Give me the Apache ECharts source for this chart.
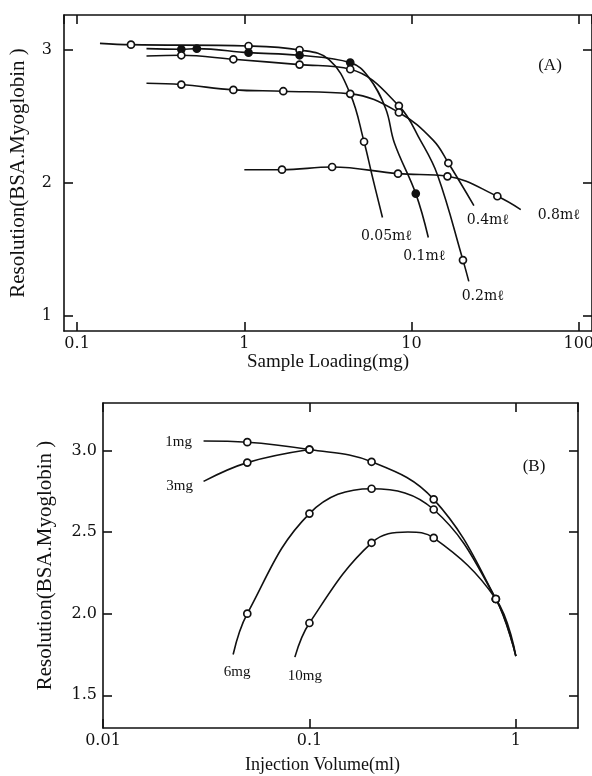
<!DOCTYPE html>
<html>
<head>
<meta charset="utf-8">
<script src="https://cdn.jsdelivr.net/npm/echarts@6/dist/echarts.min.js"></script>
<style>html,body{margin:0;padding:0;background:#fff}#c{width:592px;height:776px}</style>
</head>
<body>
<div id="c"></div>
<script>
// ---------- Panel A : Resolution vs Sample Loading (mg), one curve per injection volume ----------
const aNames = ['0.05mℓ', '0.1mℓ', '0.2mℓ', '0.4mℓ', '0.8mℓ'];
// measured points (drawn with circles)
const a005Points = [[0.21, 3.04], [1.06, 3.03], [2.14, 3.00], [5.2, 2.31]];
const a01Points  = [[0.42, 3.005], [0.52, 3.01], [1.06, 2.98], [2.14, 2.96], [4.3, 2.905], [10.6, 1.92]];
const a02Points  = [[0.42, 2.96], [0.86, 2.93], [2.14, 2.89], [4.3, 2.855], [8.4, 2.58], [20.3, 1.42]];
const a04Points  = [[0.42, 2.74], [0.86, 2.70], [1.71, 2.69], [4.3, 2.67], [8.4, 2.53], [16.6, 2.15]];
const a08Points  = [[1.68, 2.10], [3.35, 2.12], [8.3, 2.07], [16.4, 2.05], [32.6, 1.90]];
// extra points (line only, incl. line ends)
const a005Trace = [[0.137, 3.05], [3.2, 2.93], [4.3, 2.67], [5.8, 2.06], [6.7, 1.74]];
const a01Trace  = [[0.26, 3.01], [5.5, 2.80], [7.0, 2.56], [7.9, 2.30], [12.6, 1.59]];
const a02Trace  = [[0.26, 2.955], [11.3, 2.32], [14.3, 2.06], [22, 1.26]];
const a04Trace  = [[0.26, 2.75], [13.5, 2.32], [23.6, 1.83]];
const a08Trace  = [[1.0, 2.10], [45, 1.80]];
const aYTicks = [1, 2, 3];

// ---------- Panel B : Resolution vs Injection Volume (ml), one curve per sample load ----------
const bNames = ['1mg', '3mg', '6mg', '10mg'];
const b1mgPoints  = [[0.05, 3.05], [0.1, 3.005], [0.2, 2.93], [0.4, 2.70], [0.8, 2.09]];
const b3mgPoints  = [[0.05, 2.925], [0.1, 3.005]];            // merges with 1mg curve at 0.1 ml
const b6mgPoints  = [[0.05, 2.00], [0.1, 2.613], [0.2, 2.765], [0.4, 2.638], [0.8, 2.09]];
const b10mgPoints = [[0.1, 1.943], [0.2, 2.434], [0.4, 2.464], [0.8, 2.09]];
const b1mgTrace  = [[0.0307, 3.057], [1.0, 1.74]];
const b3mgTrace  = [[0.0307, 2.81]];
const b6mgTrace  = [[0.0427, 1.75], [1.0, 1.74]];
const b10mgTrace = [[0.085, 1.734], [0.30, 2.50], [1.0, 1.74]];
const bYTicks = [1.5, 2.0, 2.5, 3.0];

// ---------- styling ----------
const INK = '#111111';
const SERIF = 'Liberation Serif';
const TICKF = 'DejaVu Serif';

function curveOf(points, trace) {
  return points.concat(trace).slice().sort((p, q) => p[0] - q[0]);
}

function logX(grid, min, max, bottom, name, nameGap, namePad, showMin, nameSize) {
  return {
    gridIndex: grid, type: 'log', logBase: 10, min: min, max: max,
    position: bottom ? 'bottom' : 'top',
    axisLine: { show: true, lineStyle: { color: INK, width: 1.6 } },
    axisTick: { show: true, inside: true, length: 9, lineStyle: { color: INK, width: 1.6 } },
    minorTick: { show: false }, splitLine: { show: false }, minorSplitLine: { show: false },
    axisLabel: bottom ? { show: true, showMinLabel: !!showMin, showMaxLabel: false, margin: 5,
      fontFamily: TICKF, fontSize: 16, color: INK } : { show: false },
    name: bottom ? name : '', nameLocation: 'middle', nameGap: nameGap,
    nameTextStyle: { fontFamily: SERIF, fontSize: nameSize || 18, color: INK, padding: namePad || 0 }
  };
}
function valY(grid, min, max, left, ticks, digits, name, nameGap, margin) {
  return {
    gridIndex: grid, type: 'value', min: min, max: max,
    position: left ? 'left' : 'right',
    axisLine: { show: true, lineStyle: { color: INK, width: 1.6 } },
    axisTick: { show: true, inside: true, length: 9, customValues: ticks, lineStyle: { color: INK, width: 1.6 } },
    splitLine: { show: false },
    axisLabel: left ? { show: true, customValues: ticks, margin: margin,
      formatter: v => Number(v).toFixed(digits), fontFamily: TICKF, fontSize: 16, color: INK } : { show: false },
    name: left ? name : '', nameLocation: 'middle', nameGap: nameGap, nameRotate: 90,
    nameTextStyle: { fontFamily: SERIF, fontSize: 21, color: INK }
  };
}

const series = [];
function addCurve(xi, yi, name, points, trace, fill, labelAtStart, offset, labelFont) {
  const curve = curveOf(points, trace);
  series.push({
    type: 'line', xAxisIndex: xi, yAxisIndex: yi, data: curve, smooth: 0.4,
    showSymbol: false, silent: true, z: 2,
    lineStyle: { color: INK, width: 1.6 }
  });
  series.push({
    type: 'scatter', xAxisIndex: xi, yAxisIndex: yi, data: points, symbol: 'circle', symbolSize: 7,
    silent: true, z: 4,
    itemStyle: { color: fill, borderColor: INK, borderWidth: 1.7, opacity: 1 }
  });
  const lp = labelAtStart ? curve[0] : curve[curve.length - 1];
  series.push({
    type: 'scatter', xAxisIndex: xi, yAxisIndex: yi, data: [lp], symbolSize: 0, silent: true, z: 5,
    itemStyle: { color: INK },
    label: { show: true, position: 'top', distance: 0, offset: [offset[0], offset[1] + 8], formatter: name,
      fontFamily: labelFont.f, fontSize: labelFont.s, fontWeight: labelFont.w || 'normal',
      color: INK, opacity: 1, textBorderWidth: 0 }
  });
}

const aLab = { f: TICKF, s: 14 };
addCurve(0, 0, aNames[0], a005Points, a005Trace, '#fff', false, [4, 18], aLab);
addCurve(0, 0, aNames[1], a01Points, a01Trace, INK, false, [-4, 18], aLab);
addCurve(0, 0, aNames[2], a02Points, a02Trace, '#fff', false, [14, 14], aLab);
addCurve(0, 0, aNames[3], a04Points, a04Trace, '#fff', false, [14, 14], aLab);
addCurve(0, 0, aNames[4], a08Points, a08Trace, '#fff', false, [38, 5], aLab);

const bLab = { f: SERIF, s: 15 };
addCurve(2, 2, bNames[0], b1mgPoints, b1mgTrace, '#fff', true, [-25, 1], bLab);
addCurve(2, 2, bNames[1], b3mgPoints, b3mgTrace, '#fff', true, [-24, 4], bLab);
addCurve(2, 2, bNames[2], b6mgPoints, b6mgTrace, '#fff', true, [4, 17], bLab);
addCurve(2, 2, bNames[3], b10mgPoints, b10mgTrace, '#fff', true, [10, 18], bLab);

const option = {
  backgroundColor: '#fff',
  animation: false,
  grid: [
    { left: 64, top: 15, width: 528, height: 316, outerBoundsMode: 'none', containLabel: false },
    { left: 103, top: 403, width: 475, height: 325, outerBoundsMode: 'none', containLabel: false }
  ],
  xAxis: [
    logX(0, 0.0835, 120, true, 'Sample Loading(mg)', 19, 0, false, 19),
    logX(0, 0.0835, 120, false),
    logX(1, 0.01, 2.0, true, 'Injection Volume(ml)', 28, [0, 36, 0, 0], true, 18),
    logX(1, 0.01, 2.0, false)
  ],
  yAxis: [
    valY(0, 0.887, 3.263, true, aYTicks, 0, 'Resolution(BSA.Myoglobin )', 35, 12),
    valY(0, 0.887, 3.263, false, aYTicks, 0),
    valY(1, 1.30, 3.29, true, bYTicks, 1, 'Resolution(BSA.Myoglobin )', 47, 6),
    valY(1, 1.30, 3.29, false, bYTicks, 1)
  ],
  graphic: [
    { type: 'text', x: 550, y: 66, style: { text: '(A)', fontFamily: SERIF, fontSize: 17, fill: INK, align: 'center', verticalAlign: 'middle' } },
    { type: 'text', x: 534, y: 467, style: { text: '(B)', fontFamily: SERIF, fontSize: 17, fill: INK, align: 'center', verticalAlign: 'middle' } }
  ],
  series: series
};
const chart = echarts.init(document.getElementById('c'), null, { renderer: 'canvas' });
chart.setOption(option);
</script>
</body>
</html>
